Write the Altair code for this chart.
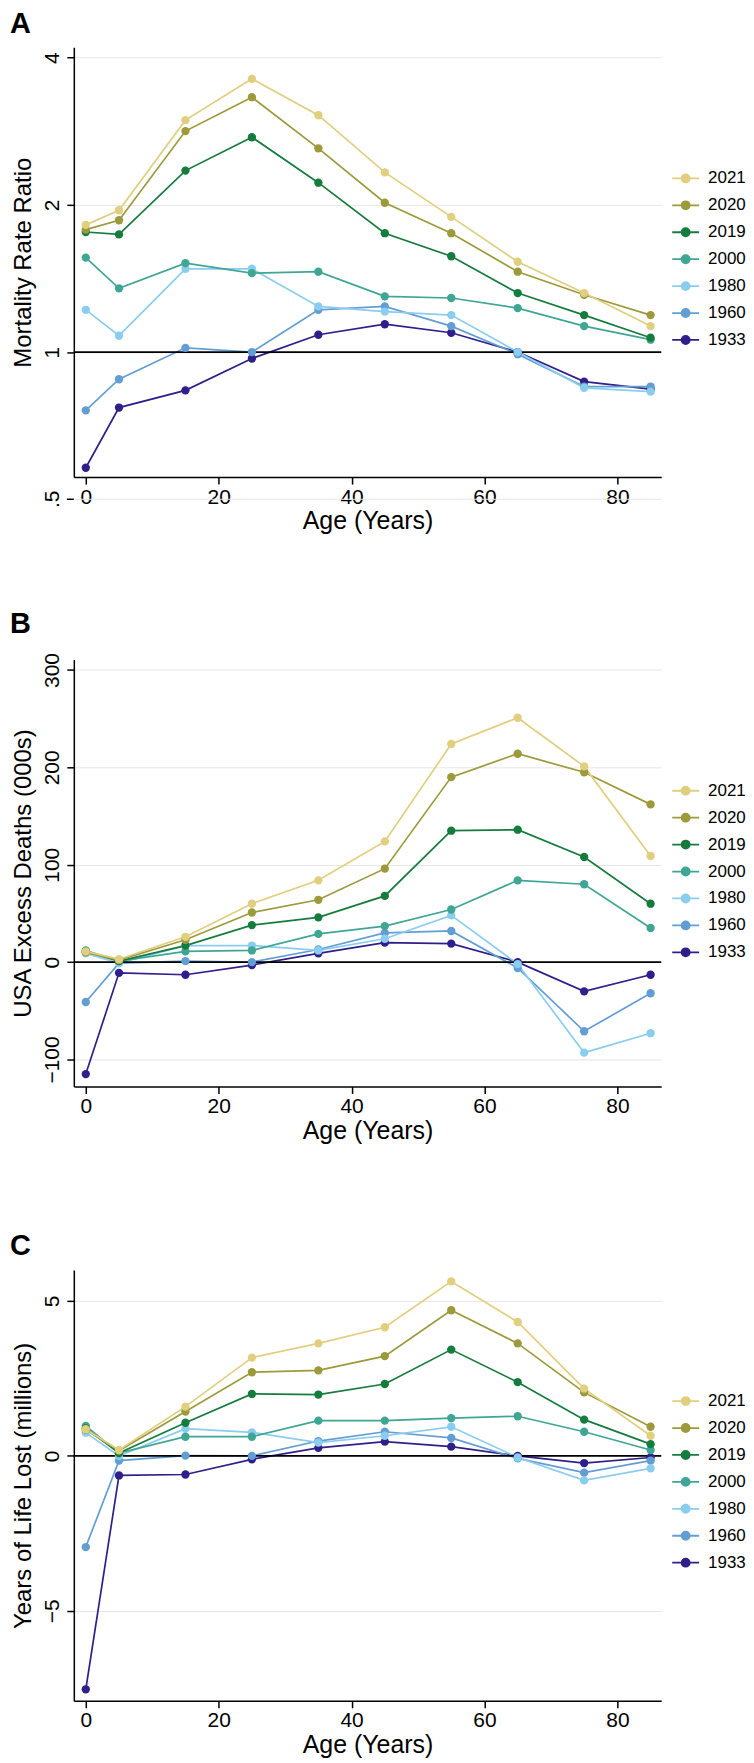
import altair as alt
import pandas as pd

ages = [0, 5, 15, 25, 35, 45, 55, 65, 75, 85]
years = ["2021", "2020", "2019", "2000", "1980", "1960", "1933"]
colors = ["#E1CE7E", "#9D9A3B", "#167C3D", "#3FA693", "#8ACDEE", "#629ED3", "#2F1F8B"]

# Panel A: Mortality rate ratio (log scale)
a_2021 = [1.82, 1.95, 2.98, 3.62, 3.05, 2.33, 1.89, 1.53, 1.32, 1.13]
a_2020 = [1.78, 1.86, 2.83, 3.32, 2.61, 2.02, 1.75, 1.46, 1.31, 1.19]
a_2019 = [1.76, 1.74, 2.35, 2.75, 2.22, 1.75, 1.57, 1.32, 1.19, 1.07]
a_2000 = [1.56, 1.35, 1.52, 1.45, 1.46, 1.30, 1.29, 1.23, 1.13, 1.06]
a_1980 = [1.22, 1.08, 1.48, 1.48, 1.24, 1.21, 1.19, 1.00, 0.845, 0.83]
a_1960 = [0.76, 0.88, 1.02, 1.00, 1.22, 1.24, 1.13, 0.99, 0.85, 0.85]
a_1933 = [0.58, 0.77, 0.835, 0.97, 1.085, 1.14, 1.095, 1.00, 0.87, 0.84]

# Panel B: USA excess deaths (000s)
b_2021 = [11, 3, 26, 60, 84, 124, 224, 251, 201, 109]
b_2020 = [10, 2, 23, 51, 64, 96, 190, 214, 195, 162]
b_2019 = [11, 1, 17, 38, 46, 68, 135, 136, 108, 60]
b_2000 = [12, 1, 11, 12, 29, 37, 54, 84, 80, 35]
b_1980 = [9, -1, 17, 17, 12, 24, 48, -2, -93, -73]
b_1960 = [-41, -1, 1, 0, 13, 30, 32, -6, -71, -32]
b_1933 = [-115, -11, -13, -3, 9, 20, 19, 0, -30, -13]

# Panel C: Years of life lost (millions)
c_2021 = [0.86, 0.19, 1.59, 3.17, 3.63, 4.15, 5.63, 4.32, 2.17, 0.65]
c_2020 = [0.84, 0.17, 1.43, 2.70, 2.76, 3.22, 4.70, 3.63, 2.05, 0.94]
c_2019 = [0.89, 0.09, 1.07, 2.00, 1.98, 2.32, 3.43, 2.38, 1.17, 0.38]
c_2000 = [0.97, 0.09, 0.62, 0.62, 1.14, 1.14, 1.22, 1.28, 0.78, 0.19]
c_1980 = [0.75, 0.00, 0.88, 0.76, 0.43, 0.65, 0.94, -0.05, -0.79, -0.40]
c_1960 = [-2.94, -0.15, 0.01, 0.00, 0.48, 0.78, 0.58, -0.08, -0.54, -0.15]
c_1933 = [-7.53, -0.63, -0.60, -0.11, 0.26, 0.46, 0.30, 0.00, -0.23, -0.05]

x_ticks = [0, 20, 40, 60, 80]
a_ticks = [1, 2, 4]
a_extra_tick = [0.5]
a_extra_label = [".5"]
b_ticks = [-100, 0, 100, 200, 300]
c_ticks = [-5, 0, 5]

W = 589
FONT = "Liberation Sans"


def long_df(series):
    rows = []
    # draw oldest first so 2021 ends on top
    for yr in reversed(years):
        for a, v in zip(ages, series[yr]):
            rows.append({"year": yr, "age": a, "value": v})
    return pd.DataFrame(rows)


def panel(series, letter, ytitle, yscale, yticks, ref, height, toffset, extra=None):
    df = long_df(series)
    cscale = alt.Scale(domain=years, range=colors)
    x = alt.X("age:Q", scale=alt.Scale(domain=[-1.8, 86.6], nice=False, zero=False),
              axis=alt.Axis(values=x_ticks, title="Age (Years)"))
    y = alt.Y("value:Q", scale=yscale, axis=alt.Axis(values=yticks, title=ytitle))
    base = alt.Chart(df)
    refl = alt.Chart(pd.DataFrame({"value": [ref]})).mark_rule(
        color="black", strokeWidth=1.8).encode(y=alt.Y("value:Q"))
    lines = base.mark_line(strokeWidth=1.7).encode(
        x=x, y=y,
        stroke=alt.Stroke("year:N", scale=cscale, sort=years, legend=alt.Legend(title=None)),
    )
    pts = base.mark_circle(size=70, opacity=1).encode(
        x=x, y=y,
        fill=alt.Fill("year:N", scale=cscale, sort=years, legend=alt.Legend(title=None)),
    )
    layers = [lines, refl, pts]
    if extra is not None:
        layers = [lines] + extra + [refl, pts]
    return alt.layer(*layers).properties(
        width=W, height=height,
        title=alt.TitleParams(text=letter, anchor="start", frame="group", dx=-64,
                              fontSize=29, fontWeight="bold", font=FONT, offset=toffset),
    ).resolve_scale(stroke="shared", fill="shared")


sa = {"2021": a_2021, "2020": a_2020, "2019": a_2019, "2000": a_2000,
      "1980": a_1980, "1960": a_1960, "1933": a_1933}
sb = {"2021": b_2021, "2020": b_2020, "2019": b_2019, "2000": b_2000,
      "1980": b_1980, "1960": b_1960, "1933": b_1933}
sc = {"2021": c_2021, "2020": c_2020, "2019": c_2019, "2000": c_2000,
      "1980": c_1980, "1960": c_1960, "1933": c_1933}

# extra tick at .5 (drawn below the plot area, as in the original)
edf = pd.DataFrame({"value": a_extra_tick, "label": a_extra_label})
e_grid = alt.Chart(edf).mark_rule(color="#E6E6E6", strokeWidth=1).encode(
    y="value:Q", x=alt.value(0), x2=alt.value(W))
e_tick = alt.Chart(edf).mark_rule(color="black", strokeWidth=1.5).encode(
    y="value:Q", x=alt.value(-7), x2=alt.value(0))
e_text = alt.Chart(edf).mark_text(angle=270, align="center", baseline="bottom",
                                  fontSize=21, font=FONT, color="black").encode(
    y="value:Q", x=alt.value(-11), text="label:N")

pA = panel(sa, "A", "Mortality Rate Ratio",
           alt.Scale(type="log", domain=[0.555, 4.2], nice=False), a_ticks, 1, 431, 8,
           extra=[e_grid, e_tick, e_text])
pB = panel(sb, "B", "USA Excess Deaths (000s)",
           alt.Scale(domain=[-127.7, 310.7], nice=False, zero=False), b_ticks, 0, 428, 14)
pC = panel(sc, "C", "Years of Life Lost (millions)",
           alt.Scale(domain=[-7.9, 6.0], nice=False, zero=False), c_ticks, 0, 432, 9)

lower = alt.vconcat(pB, pC, spacing=89).resolve_scale(
    stroke="independent", fill="independent").resolve_legend(
    stroke="independent", fill="independent")

chart = alt.vconcat(pA, lower, spacing=75).resolve_scale(
    stroke="independent", fill="independent").resolve_legend(
    stroke="independent", fill="independent").properties(
    padding={"left": 2, "top": 0, "right": 0, "bottom": 0}
).configure_view(stroke=None).configure_axis(
    labelFont=FONT, titleFont=FONT, labelColor="black", titleColor="black",
    titleFontWeight="normal", domainColor="black", domainWidth=1.5,
    tickColor="black", tickWidth=1.5, tickSize=7,
    labelFontSize=21, titleFontSize=24, gridColor="#E6E6E6", gridWidth=1,
).configure_axisX(grid=False, labelAngle=0, titleFontSize=25, labelPadding=2, titlePadding=2
).configure_axisY(grid=True, labelAngle=270, labelAlign="center", labelBaseline="bottom",
                  labelPadding=4, titlePadding=6
).configure_legend(
    orient="none", legendX=599, legendY=117, labelFont=FONT, labelFontSize=17,
    labelColor="black", symbolType="M-1,0H1M-0.3,0A0.3,0.3,0,1,1,0.3,0A0.3,0.3,0,1,1,-0.3,0Z",
    symbolSize=729, symbolStrokeWidth=1.8, symbolOpacity=1, rowPadding=4, labelOffset=8,
    padding=0,
)

chart.save("out.html", embed_options={"renderer": "svg", "actions": False})
